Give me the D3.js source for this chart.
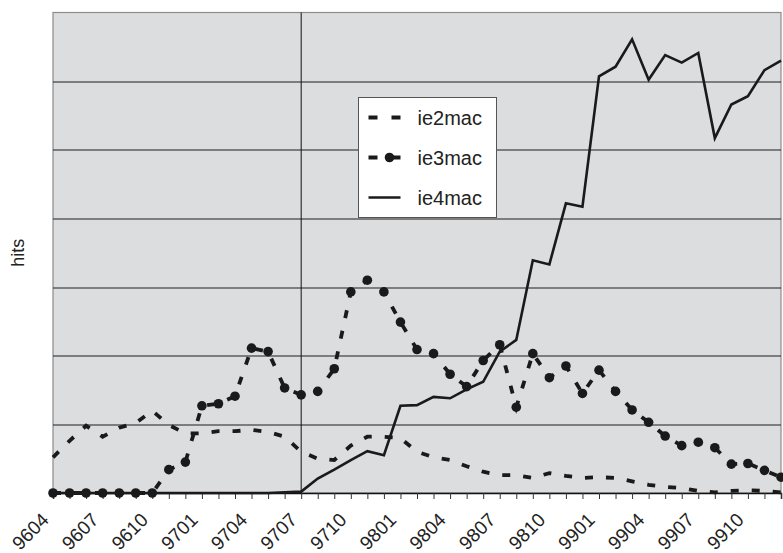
<!DOCTYPE html>
<html>
<head>
<meta charset="utf-8">
<script src="https://cdn.jsdelivr.net/npm/d3@7"></script>
<style>
  body { margin: 0; background: #fff; }
  svg text { font-family: "Liberation Sans", Arial, sans-serif; fill: #222; }
</style>
</head>
<body>
<div id="chart"></div>
<script>
// monthly periods, yymm
var months = ["9604","9605","9606","9607","9608","9609","9610","9611","9612",
    "9701","9702","9703","9704","9705","9706","9707","9708","9709","9710","9711","9712",
    "9801","9802","9803","9804","9805","9806","9807","9808","9809","9810","9811","9812",
    "9901","9902","9903","9904","9905","9906","9907","9908","9909","9910","9911","9912"];

var tickLabels = ["9604","9607","9610","9701","9704","9707","9710","9801",
    "9804","9807","9810","9901","9904","9907","9910"];

// hits, one gridline = 1 unit (no scale printed on the original)
var ie2mac = [0.52, 0.76, 0.98, 0.82, 0.95, 1.02, 1.20, 0.99, 0.87,
    0.87, 0.90, 0.90, 0.92, 0.89, 0.82, 0.60, 0.50, 0.48, 0.69, 0.82, 0.82,
    0.80, 0.60, 0.52, 0.48, 0.39, 0.31, 0.26, 0.26, 0.22, 0.29, 0.25, 0.22,
    0.23, 0.22, 0.17, 0.12, 0.09, 0.07, 0.03, 0.01, 0.03, 0.04, 0.03, 0.01];

var ie3mac = [0, 0, 0, 0, 0, 0, 0, 0.34, 0.45,
    1.27, 1.30, 1.41, 2.11, 2.06, 1.53, 1.43, 1.48, 1.81, 2.93, 3.10, 2.93,
    2.49, 2.09, 2.03, 1.73, 1.55, 1.93, 2.16, 1.25, 2.03, 1.68, 1.85, 1.45,
    1.79, 1.48, 1.21, 1.03, 0.83, 0.69, 0.74, 0.66, 0.42, 0.43, 0.33, 0.23];

var ie4mac = [0, 0, 0, 0, 0, 0, 0, 0, 0,
    0, 0, 0, 0, 0, 0.01, 0.02, 0.21, 0.34, 0.48, 0.61, 0.55,
    1.27, 1.28, 1.40, 1.38, 1.51, 1.62, 2.06, 2.23, 3.39, 3.33, 4.22, 4.17,
    6.07, 6.21, 6.61, 6.02, 6.38, 6.27, 6.41, 5.17, 5.66, 5.78, 6.16, 6.30];

var crossAt = "9707";

var W = 783, H = 553;
var margin = { top: 12.5, right: 2, bottom: 60, left: 53 };
var width = W - margin.left - margin.right;
var height = H - margin.top - margin.bottom;

var svg = d3.select("#chart").append("svg")
    .attr("width", W)
    .attr("height", H);

var g = svg.append("g")
    .attr("transform", "translate(" + margin.left + "," + margin.top + ")");

var x = d3.scalePoint()
    .domain(months)
    .range([0, width]);

var y = d3.scaleLinear()
    .domain([0, 7])
    .range([height, 0]);

// plot background
g.append("rect")
    .attr("width", width)
    .attr("height", height)
    .attr("fill", "#dcdddf")
    .attr("stroke", "#8c8c8c")
    .attr("stroke-width", 1.2);

// gridlines
g.selectAll(".grid")
    .data(y.ticks(7).filter(function(d){ return d > 0 && d < 7; }))
    .enter().append("line")
    .attr("class", "grid")
    .attr("x1", 0)
    .attr("x2", width)
    .attr("y1", function(d){ return Math.round(y(d)) + 0.5; })
    .attr("y2", function(d){ return Math.round(y(d)) + 0.5; })
    .attr("stroke", "#1e1e1e")
    .attr("stroke-width", 1.2);

// vertical axis line crossing at 9707
g.append("line")
    .attr("x1", x(crossAt))
    .attr("x2", x(crossAt))
    .attr("y1", 0)
    .attr("y2", height)
    .attr("stroke", "#111")
    .attr("stroke-width", 1);

// bottom axis, ticks every month, labels drawn separately
var xAxis = d3.axisBottom(x)
    .tickSize(6)
    .tickFormat("");

var xg = g.append("g")
    .attr("transform", "translate(0," + height + ")")
    .call(xAxis);

xg.select(".domain").attr("stroke", "#111").attr("stroke-width", 1.5);
xg.selectAll(".tick line").attr("stroke", "#333");

g.append("g")
    .selectAll(".xlabel")
    .data(tickLabels)
    .enter().append("text")
    .attr("class", "xlabel")
    .attr("font-size", 19)
    .attr("text-anchor", "end")
    .attr("transform", function(d){
        return "translate(" + (x(d) - 3) + "," + (height + 28) + ") rotate(-45)";
    })
    .text(function(d){ return d; });

// lines
var line = d3.line()
    .x(function(d, i){ return x(months[i]); })
    .y(function(d){ return y(d); });

g.append("path")
    .datum(ie2mac)
    .attr("d", line)
    .attr("fill", "none")
    .attr("stroke", "#1a1a1a")
    .attr("stroke-width", 3.8)
    .attr("stroke-dasharray", "8,13");

g.append("path")
    .datum(ie3mac)
    .attr("d", line)
    .attr("fill", "none")
    .attr("stroke", "#1a1a1a")
    .attr("stroke-width", 3.8)
    .attr("stroke-dasharray", "8,13");

g.selectAll(".dot")
    .data(ie3mac)
    .enter().append("circle")
    .attr("class", "dot")
    .attr("cx", function(d, i){ return x(months[i]); })
    .attr("cy", function(d){ return y(d); })
    .attr("r", 4.8)
    .attr("fill", "#1a1a1a");

g.append("path")
    .datum(ie4mac)
    .attr("d", line)
    .attr("fill", "none")
    .attr("stroke", "#1a1a1a")
    .attr("stroke-width", 2.6)
    .attr("stroke-linejoin", "miter");

// y label
svg.append("text")
    .attr("transform", "translate(24," + (margin.top + height / 2) + ") rotate(-90)")
    .attr("text-anchor", "middle")
    .attr("font-size", 18)
    .text("hits");

// legend
var legend = svg.append("g")
    .attr("transform", "translate(358.5,97.5)");

legend.append("rect")
    .attr("width", 138)
    .attr("height", 120)
    .attr("fill", "#fff")
    .attr("stroke", "#555")
    .attr("stroke-width", 1);

var legendItems = ["ie2mac", "ie3mac", "ie4mac"];

var item = legend.selectAll(".item")
    .data(legendItems)
    .enter().append("g")
    .attr("class", "item")
    .attr("transform", function(d, i){ return "translate(0," + (20 + i * 40) + ")"; });

item.append("line")
    .attr("x1", 10)
    .attr("x2", 42)
    .attr("stroke", "#1a1a1a")
    .attr("stroke-width", function(d){ return d === "ie4mac" ? 2.6 : 3.8; })
    .attr("stroke-dasharray", function(d){ return d === "ie4mac" ? null : "9,14"; });

item.filter(function(d){ return d === "ie3mac"; })
    .append("circle")
    .attr("cx", 31)
    .attr("r", 4.8)
    .attr("fill", "#1a1a1a");

item.append("text")
    .attr("x", 59)
    .attr("dy", "0.35em")
    .attr("font-size", 20)
    .text(function(d){ return d; });
</script>
</body>
</html>
